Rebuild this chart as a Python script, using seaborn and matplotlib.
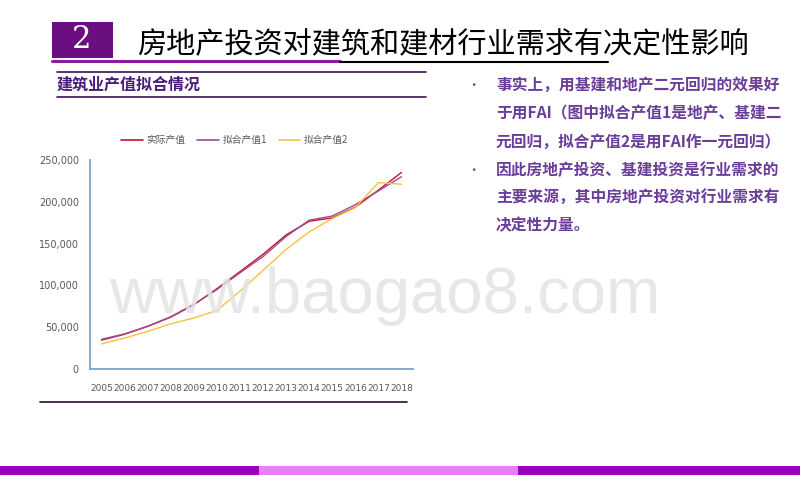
import pandas as pd
import seaborn as sns
import matplotlib.pyplot as plt
from matplotlib.patches import Rectangle
from matplotlib.lines import Line2D
from matplotlib.ticker import FuncFormatter

# 建筑业产值 (亿元) and two fitted series
years = [2005, 2006, 2007, 2008, 2009, 2010, 2011, 2012, 2013, 2014, 2015, 2016, 2017, 2018]
actual = [34552, 41557, 51044, 62037, 76808, 96031, 116463, 137218, 160366, 176713, 180757, 193567, 213954, 235086]
fit1 = [35500, 42000, 51000, 62500, 77500, 95000, 115000, 134500, 158500, 178000, 183000, 196500, 213000, 230000]
fit2 = [30000, 37000, 45000, 54000, 61000, 70000, 93000, 118000, 143000, 164000, 180000, 193000, 223000, 221000]
series_names = ['实际产值', '拟合产值1', '拟合产值2']
series_colors = ['#c8102e', '#a04a90', '#f5c242']

title = '房地产投资对建筑和建材行业需求有决定性影响'
subtitle = '建筑业产值拟合情况'
bullets = [
    ['事实上，用基建和地产二元回归的效果好', '于用FAI（图中拟合产值1是地产、基建二', '元回归，拟合产值2是用FAI作一元回归）'],
    ['因此房地产投资、基建投资是行业需求的', '主要来源，其中房地产投资对行业需求有', '决定性力量。'],
]

df = pd.DataFrame({
    'year': years * 3,
    'value': actual + fit1 + fit2,
    'series': [series_names[0]] * len(years) + [series_names[1]] * len(years) + [series_names[2]] * len(years),
})

sns.set_theme(style='white')
plt.rcParams['font.family'] = ['Noto Sans CJK SC', 'DejaVu Sans']

fig = plt.figure(figsize=(8, 5), dpi=100)
W, H = 800, 500

def fx(px):
    return px / W

def fy(py):
    return 1 - py / H

# header: number box, title, underline
fig.patches.append(Rectangle((fx(52), fy(58)), fx(61), 36 / H, transform=fig.transFigure,
                             facecolor='#6b0f80', edgecolor='none'))
fig.text(fx(82), fy(40), '2', color='white', fontsize=22, family='DejaVu Serif',
         ha='center', va='center')
fig.text(fx(137), fy(45), title, color='black', fontsize=21, ha='left', va='center')
fig.lines.append(Line2D([fx(52), fx(340)], [fy(61), fy(61)], transform=fig.transFigure,
                        color='#8a1aa0', lw=2.2))
fig.lines.append(Line2D([fx(340), fx(608)], [fy(62), fy(62)], transform=fig.transFigure,
                        color='black', lw=1.5))

# sub header
for yy in (72, 97):
    fig.lines.append(Line2D([fx(57), fx(426)], [fy(yy), fy(yy)], transform=fig.transFigure,
                            color='#3c1053', lw=1.2))
fig.text(fx(57), fy(85), subtitle, color='#4a1a7a', fontsize=11.5, fontweight='bold',
         ha='left', va='center')
fig.lines.append(Line2D([fx(40), fx(407)], [fy(402), fy(402)], transform=fig.transFigure,
                        color='#2a0a3a', lw=1.2))

# right bullets
line_y = [85, 113, 142, 170, 198, 225]
k = 0
for para in bullets:
    fig.text(fx(473), fy(line_y[k]), '•', color='#6a3d9a', fontsize=9, ha='center', va='center')
    for ln in para:
        fig.text(fx(496), fy(line_y[k]), ln, color='#6a3d9a', fontsize=11.3, fontweight='bold',
                 ha='left', va='center')
        k += 1

# chart
ax = fig.add_axes([fx(90), fy(369), fx(323), 209 / H])
sns.lineplot(data=df, x='year', y='value', hue='series', palette=series_colors,
             linewidth=1.0, ax=ax, legend=False)
ax.set_xlim(2004.5, 2018.5)
ax.set_ylim(0, 250000)
ax.set_xticks(years)
ax.set_xticklabels([str(y) for y in years])
ax.set_yticks(range(0, 250001, 50000))
ax.yaxis.set_major_formatter(FuncFormatter(lambda v, p: f'{int(v):,}'))
ax.set_xlabel('')
ax.set_ylabel('')
ax.tick_params(axis='x', length=0, pad=11, labelsize=6.5, labelcolor='#595959')
ax.tick_params(axis='y', length=0, pad=8, labelsize=7, labelcolor='#595959')
for lbl in ax.get_xticklabels() + ax.get_yticklabels():
    lbl.set_family('DejaVu Sans')
ax.spines['top'].set_visible(False)
ax.spines['right'].set_visible(False)
ax.spines['left'].set_color('#7a9cc0')
ax.spines['bottom'].set_color('#7a9cc0')
ax.set_facecolor('none')

handles = [Line2D([0], [0], color=c, lw=1.2) for c in series_colors]
fig.legend(handles, series_names, loc='center', bbox_to_anchor=(fx(235), fy(140)), ncol=3,
           frameon=False, fontsize=7, handlelength=2.2, columnspacing=1.2, handletextpad=0.4,
           labelcolor='#595959')

# watermark
fig.text(fx(385), fy(313), 'www.baogao8.com', family='Liberation Sans', fontsize=47,
         color='#e3e3e3', alpha=0.85, ha='center', va='baseline', zorder=10)

# bottom bars
bar_cols = ['#9b00bf', '#e583f5', '#9b00bf']
bar_x = [0, 259, 518, 800]
for i, c in enumerate(bar_cols):
    fig.patches.append(Rectangle((fx(bar_x[i]), fy(475)), fx(bar_x[i + 1] - bar_x[i]), 9 / H,
                                 transform=fig.transFigure, facecolor=c, edgecolor='none'))

fig.savefig('out.png', dpi=100)
